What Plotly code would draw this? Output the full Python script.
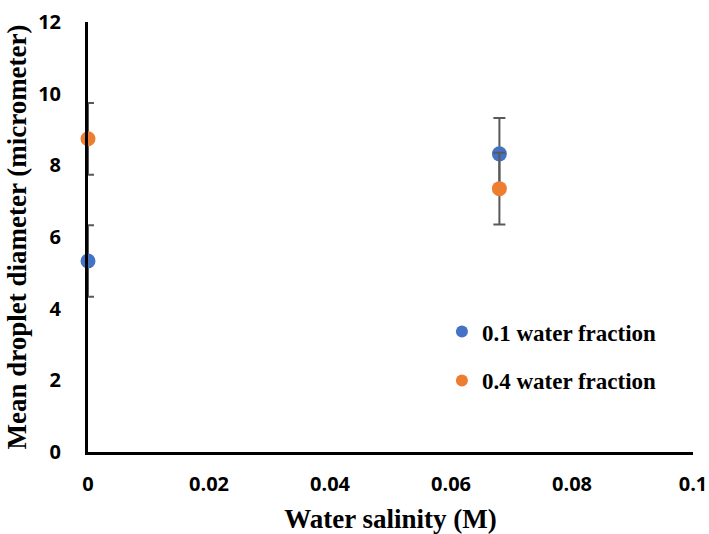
import plotly.graph_objects as go

# Water salinity (M)
salinity = [0.0, 0.068]

# Mean droplet diameter (micrometer) and error for each water fraction
diam_01 = [5.33, 8.32]
err_01 = [1.0, 1.0]
diam_04 = [8.74, 7.35]
err_04 = [1.0, 1.0]

names = ["0.1 water fraction", "0.4 water fraction"]
colors = ["#4472C4", "#ED7D31"]

x_ticks = [0, 0.02, 0.04, 0.06, 0.08, 0.1]
x_tick_text = ["0", "0.02", "0.04", "0.06", "0.08", "0.1"]
y_ticks = [0, 2, 4, 6, 8, 10, 12]

fig = go.Figure()
for i, (y, e, name, c) in enumerate([(diam_01, err_01, names[0], colors[0]),
                                     (diam_04, err_04, names[1], colors[1])]):
    fig.add_trace(go.Scatter(
        x=salinity, y=y, mode="markers", name=name, legendgroup=f"g{i}",
        marker=dict(color=c, size=15),
        error_y=dict(type="data", array=e, visible=True,
                     color="#595959", thickness=2, width=6),
        cliponaxis=False,
    ))

tick_font = dict(family="Open Sans, Liberation Sans, sans-serif", size=20,
                 color="black", weight="bold")
title_font = dict(family="Liberation Serif, Times New Roman, serif", size=27,
                  color="black", weight="bold")

fig.update_layout(
    width=709, height=534,
    margin=dict(l=88, r=16, t=22, b=82, autoexpand=False),
    paper_bgcolor="white", plot_bgcolor="white",
    showlegend=True,
    legend=dict(x=0.585, y=0.33, xanchor="left", yanchor="top",
                font=dict(family="Liberation Serif, Times New Roman, serif",
                          size=23, color="black", weight="bold"),
                bgcolor="rgba(0,0,0,0)", itemsizing="constant",
                tracegroupgap=16, itemwidth=30),
    xaxis=dict(range=[0, 0.1], tickvals=x_ticks, ticktext=x_tick_text,
               showgrid=False, zeroline=False, showline=True,
               linecolor="black", linewidth=3, ticks="", ticklen=0,
               tickfont=tick_font, automargin=False, ticklabelstandoff=12,
               title=dict(text="Water salinity (M)", font=title_font, standoff=16)),
    yaxis=dict(range=[0, 12], tickvals=y_ticks,
               showgrid=False, zeroline=False, showline=True,
               linecolor="black", linewidth=3, ticks="", ticklen=0,
               tickfont=tick_font, automargin=False, ticklabelstandoff=20,
               title=dict(text="Mean droplet diameter (micrometer)",
                          font=title_font, standoff=4)),
)

fig.write_html("out.html")
